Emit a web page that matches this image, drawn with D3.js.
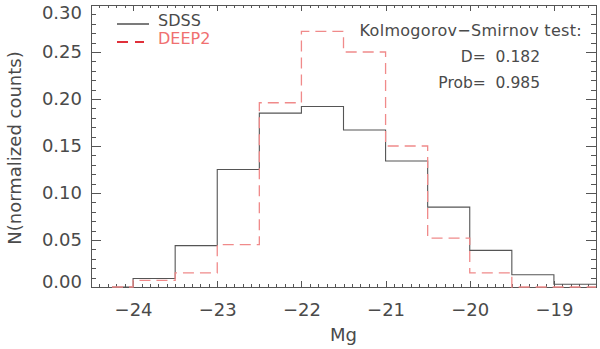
<!DOCTYPE html>
<html>
<head>
<meta charset="utf-8">
<script src="https://cdn.jsdelivr.net/npm/d3@7"></script>
<style>
  body { margin: 0; background: #fff; }
  svg text { font-family: "DejaVu Sans", sans-serif; fill: #4a4a4a; white-space: pre; }
  .axis path, .axis line { stroke: #555; shape-rendering: crispEdges; }
</style>
</head>
<body>
<svg id="chart" width="600" height="349"></svg>
<script>
// bin centres in Mg (0.5 mag bins)
var binCenters = [-24.25, -23.75, -23.25, -22.75, -22.25, -21.75, -21.25, -20.75, -20.25, -19.75, -19.25, -18.75];
var sdssCounts = [0.000, 0.009, 0.044, 0.125, 0.185, 0.192, 0.167, 0.134, 0.085, 0.039, 0.013, 0.003];
var deep2Counts = [0.000, 0.007, 0.015, 0.045, 0.196, 0.272, 0.250, 0.150, 0.052, 0.015, 0.000, 0.000];
var xTicks = [-24, -23, -22, -21, -20, -19];
var yTicks = [0.00, 0.05, 0.10, 0.15, 0.20, 0.25, 0.30];
var ksLines = ["Kolmogorov\u2212Smirnov test:", "D=  0.182", "Prob=  0.985"];

var margin = {left: 91, right: 4, top: 5, bottom: 62};
var width = 600 - margin.left - margin.right,
    height = 349 - margin.top - margin.bottom;

var svg = d3.select("#chart");
var g = svg.append("g").attr("transform", "translate(" + margin.left + "," + margin.top + ")");

var x = d3.scaleLinear().domain([-24.5, -18.5]).range([0, width]);
var y = d3.scaleLinear().domain([0, 0.30]).range([height, 0]);

var minus = function(v) { return String(v).replace("-", "\u2212"); };

// minor ticks first
var xMinor = d3.range(-245, -184).map(function(d) { return d / 10; });
var yMinor = d3.range(0, 31).map(function(d) { return d / 100; });

g.append("g").attr("class", "axis").attr("transform", "translate(0," + height + ")")
  .call(d3.axisBottom(x).tickValues(xMinor).tickSize(-3).tickFormat(""));
g.append("g").attr("class", "axis")
  .call(d3.axisTop(x).tickValues(xMinor).tickSize(-3).tickFormat(""));
g.append("g").attr("class", "axis")
  .call(d3.axisLeft(y).tickValues(yMinor).tickSize(-5).tickFormat(""));
g.append("g").attr("class", "axis").attr("transform", "translate(" + width + ",0)")
  .call(d3.axisRight(y).tickValues(yMinor).tickSize(-5).tickFormat(""));

// major ticks
var xAxis = g.append("g").attr("class", "axis").attr("transform", "translate(0," + height + ")")
  .call(d3.axisBottom(x).tickValues(xTicks).tickSize(-6).tickPadding(16).tickFormat(minus));
g.append("g").attr("class", "axis")
  .call(d3.axisTop(x).tickValues(xTicks).tickSize(-6).tickFormat(""));
var yAxis = g.append("g").attr("class", "axis")
  .call(d3.axisLeft(y).tickValues(yTicks).tickSize(-10).tickPadding(9).tickFormat(d3.format(".2f")));
g.append("g").attr("class", "axis").attr("transform", "translate(" + width + ",0)")
  .call(d3.axisRight(y).tickValues(yTicks).tickSize(-10).tickFormat(""));

xAxis.selectAll("text").style("font-size", "18px").attr("fill", "#4a4a4a");
yAxis.selectAll("text").style("font-size", "18px").attr("fill", "#4a4a4a");
// end labels are pulled inside the frame
yAxis.selectAll("text").filter(function(d) { return d === 0; }).attr("dy", "0.0em");
yAxis.selectAll("text").filter(function(d) { return d === 0.30; }).attr("dy", "0.77em");

// histogram steps (IDL psym=10 style)
function stepPoints(vals) {
  var half = (binCenters[1] - binCenters[0]) / 2;
  var pts = [[binCenters[0], vals[0]]];
  for (var i = 0; i < vals.length; i++) {
    var left = i === 0 ? binCenters[0] : binCenters[i] - half;
    pts.push([left, vals[i]]);
    pts.push([binCenters[i] + half, vals[i]]);
  }
  return pts;
}
var line = d3.line().x(function(d) { return x(d[0]); }).y(function(d) { return y(d[1]); });

g.append("path").datum(stepPoints(sdssCounts))
  .attr("d", line).attr("fill", "none").attr("stroke", "#555").attr("stroke-width", 1.1);
g.append("path").datum(stepPoints(deep2Counts))
  .attr("d", line).attr("fill", "none").attr("stroke", "#f08a8a").attr("stroke-width", 1.3)
  .attr("stroke-dasharray", "11,6");

// legend
var leg = svg.append("g");
leg.append("line").attr("x1", 117).attr("x2", 149).attr("y1", 24).attr("y2", 24)
  .attr("stroke", "#333").attr("stroke-width", 1.3);
leg.append("text").attr("x", 158).attr("y", 20).attr("dy", "0.35em")
  .style("font-size", "16px").text("SDSS");
leg.append("line").attr("x1", 117).attr("x2", 144).attr("y1", 42).attr("y2", 42)
  .attr("stroke", "#e0303a").attr("stroke-width", 2).attr("stroke-dasharray", "11,7");
leg.append("text").attr("x", 158).attr("y", 38).attr("dy", "0.35em")
  .style("font-size", "16px").style("fill", "#f07070").text("DEEP2");

// KS test text
svg.append("text").attr("x", 582).attr("y", 30).attr("dy", "0.35em").attr("text-anchor", "end")
  .style("font-size", "16px").style("letter-spacing", "0.3px").text(ksLines[0]);
svg.append("text").attr("x", 540).attr("y", 57).attr("dy", "0.35em").attr("text-anchor", "end")
  .style("font-size", "15.5px").text(ksLines[1]);
svg.append("text").attr("x", 540).attr("y", 83).attr("dy", "0.35em").attr("text-anchor", "end")
  .style("font-size", "15.5px").text(ksLines[2]);

// axis titles
svg.append("text").attr("x", margin.left + width / 2).attr("y", 335).attr("dy", "0.35em")
  .attr("text-anchor", "middle").style("font-size", "18px").text("Mg");
svg.append("text").attr("transform", "translate(15,148) rotate(-90)").attr("dy", "0.35em")
  .attr("text-anchor", "middle").style("font-size", "18px").text("N(normalized counts)");
</script>
</body>
</html>
